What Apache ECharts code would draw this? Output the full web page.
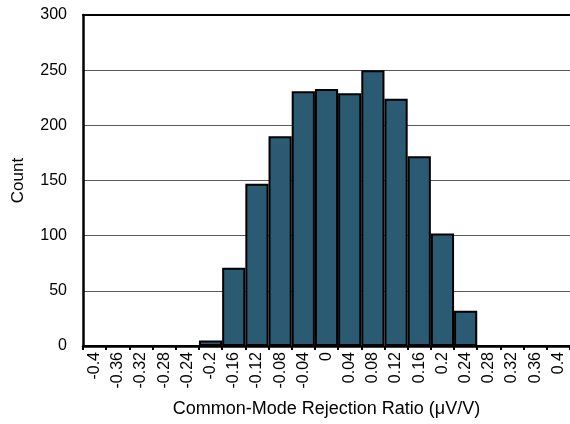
<!DOCTYPE html>
<html>
<head>
<meta charset="utf-8">
<script src="https://cdn.jsdelivr.net/npm/echarts@6/dist/echarts.min.js"></script>
<style>html,body{margin:0;padding:0;background:#fff}#c{width:570px;height:424px}</style>
</head>
<body>
<div id="c"></div>
<script>
const categories = ['-0.4','-0.36','-0.32','-0.28','-0.24','-0.2','-0.16','-0.12','-0.08','-0.04','0','0.04','0.08','0.12','0.16','0.2','0.24','0.28','0.32','0.36','0.4'];
const counts = [0,0,0,0,0,5,71,147,190,231,233,229,250,224,172,102,32,0,0,0,0];
const yTicks = [0,50,100,150,200,250,300];

const FONT = '"Liberation Sans", Arial, sans-serif';
const chart = echarts.init(document.getElementById('c'), null, {renderer:'canvas'});
chart.setOption({
  animation: false,
  backgroundColor: '#fff',
  grid: {left: 83, right: 0, top: 15, bottom: 78, containLabel: false},
  xAxis: [{
    type: 'category',
    data: categories,
    boundaryGap: true,
    name: 'Common-Mode Rejection Ratio (\u03bcV/V)',
    nameLocation: 'middle',
    nameGap: 54,
    nameTextStyle: {fontFamily: FONT, fontSize: 18, color: '#000'},
    axisLine: {show: true, lineStyle: {color: '#000', width: 2.5}},
    axisTick: {show: true, alignWithLabel: false, length: 4, lineStyle: {color: '#000', width: 2}},
    axisLabel: {rotate: 90, margin: 6, interval: 0, fontFamily: FONT, fontSize: 16, color: '#000'},
    splitLine: {show: false}
  }, {
    type: 'category',
    data: categories,
    position: 'top',
    axisLine: {show: true, lineStyle: {color: '#000', width: 2}},
    axisTick: {show: false},
    axisLabel: {show: false},
    splitLine: {show: false}
  }],
  yAxis: {
    type: 'value',
    min: yTicks[0],
    max: yTicks[yTicks.length - 1],
    interval: 50,
    name: 'Count',
    nameLocation: 'middle',
    nameGap: 56,
    nameRotate: 90,
    nameTextStyle: {fontFamily: FONT, fontSize: 17, color: '#000'},
    axisLine: {show: true, lineStyle: {color: '#000', width: 2.5}},
    axisTick: {show: false},
    axisLabel: {margin: 16, fontFamily: FONT, fontSize: 16, color: '#000'},
    splitLine: {show: true, lineStyle: {color: '#5a5a5a', width: 1}}
  },
  series: [{
    type: 'bar',
    data: counts,
    barCategoryGap: '0%',
    itemStyle: {color: '#2a5b73', borderColor: '#000', borderWidth: 2},
    silent: true
  }]
});
</script>
</body>
</html>
